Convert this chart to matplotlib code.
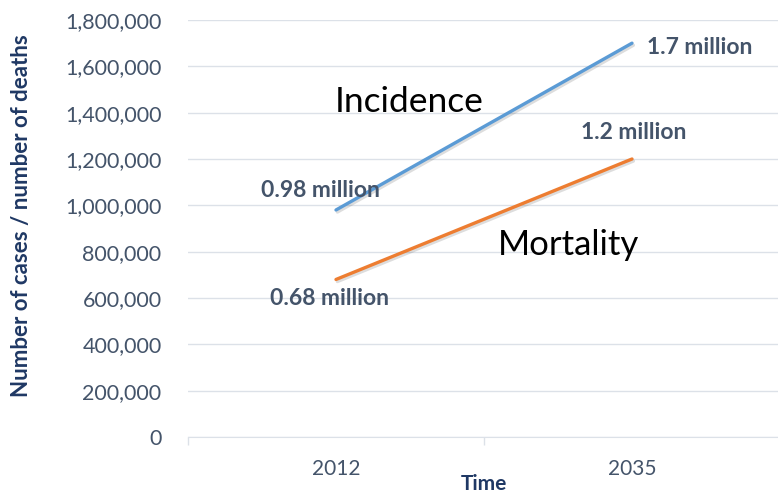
import matplotlib
matplotlib.use("Agg")
import matplotlib.pyplot as plt
from matplotlib.ticker import FuncFormatter, FixedLocator
import matplotlib.patheffects as pe

years = ["2012", "2035"]
incidence = [980000, 1700000]
mortality = [680000, 1200000]
incidence_labels = ["0.98 million", "1.7 million"]
mortality_labels = ["0.68 million", "1.2 million"]
yticks = [0, 200000, 400000, 600000, 800000, 1000000, 1200000, 1400000, 1600000, 1800000]

plt.rcParams['font.family'] = ['Lato', 'DejaVu Sans']

fig = plt.figure(figsize=(7.78, 4.94), dpi=100)
ax = fig.add_axes([188/778, 1-437/494, 592/778, 417/494])

tick_col = '#44546A'
navy = '#1F3864'
grid_col = '#DCE1E8'

x = list(range(len(years)))
shadow = [pe.SimpleLineShadow(offset=(1, -1.5), alpha=0.2, shadow_color='#555555'), pe.Normal()]
ax.plot(x, incidence, color='#5B9BD5', lw=2.4, solid_capstyle='round', path_effects=shadow)
ax.plot(x, mortality, color='#ED7D31', lw=2.4, solid_capstyle='round', path_effects=shadow)

ax.set_xlim(-0.5, 1.5)
ax.set_ylim(0, 1800000)
ax.set_yticks(yticks)
ax.yaxis.set_major_formatter(FuncFormatter(lambda v, p: f"{int(v):,}"))
ax.set_xticks(x)
ax.set_xticklabels(years)
ax.xaxis.set_minor_locator(FixedLocator([-0.5, 0.5, 1.5]))
ax.tick_params(axis='x', which='major', length=0, pad=16, labelsize=15, labelcolor=tick_col)
ax.tick_params(axis='x', which='minor', length=6, color=grid_col, width=1)
ax.tick_params(axis='y', length=0, pad=19, labelsize=15.5, labelcolor=tick_col)

ax.grid(axis='y', color=grid_col, lw=1)
ax.set_axisbelow(True)
for s in ['top', 'right', 'left']:
    ax.spines[s].set_visible(False)
ax.spines['bottom'].set_color(grid_col)

fig.text(484/778, 1-484/494, "Time", ha='center', va='center',
         fontsize=15, fontweight='bold', color=navy)
fig.text(22/778, 1-216/494, "Number of cases / number of deaths", rotation=90,
         ha='center', va='center', fontsize=16, fontweight='bold', color=navy)

lab_kw = dict(fontsize=16.5, fontweight='bold', color=tick_col)
ax.annotate(incidence_labels[0], (x[0], incidence[0]), xytext=(-11, 14), textcoords='offset points', ha='center', va='center', **lab_kw)
ax.annotate(incidence_labels[1], (x[1], incidence[1]), xytext=(11, -3), textcoords='offset points', ha='left', va='center', **lab_kw)
ax.annotate(mortality_labels[0], (x[0], mortality[0]), xytext=(-5, -14), textcoords='offset points', ha='center', va='center', **lab_kw)
ax.annotate(mortality_labels[1], (x[1], mortality[1]), xytext=(1, 19), textcoords='offset points', ha='center', va='center', **lab_kw)

ax.text(0.247, 1446000, "Incidence", ha='center', va='center', fontsize=25.5, color='black')
ax.text(0.787, 829000, "Mortality", ha='center', va='center', fontsize=25, color='black')

fig.savefig("out.png", dpi=100)
